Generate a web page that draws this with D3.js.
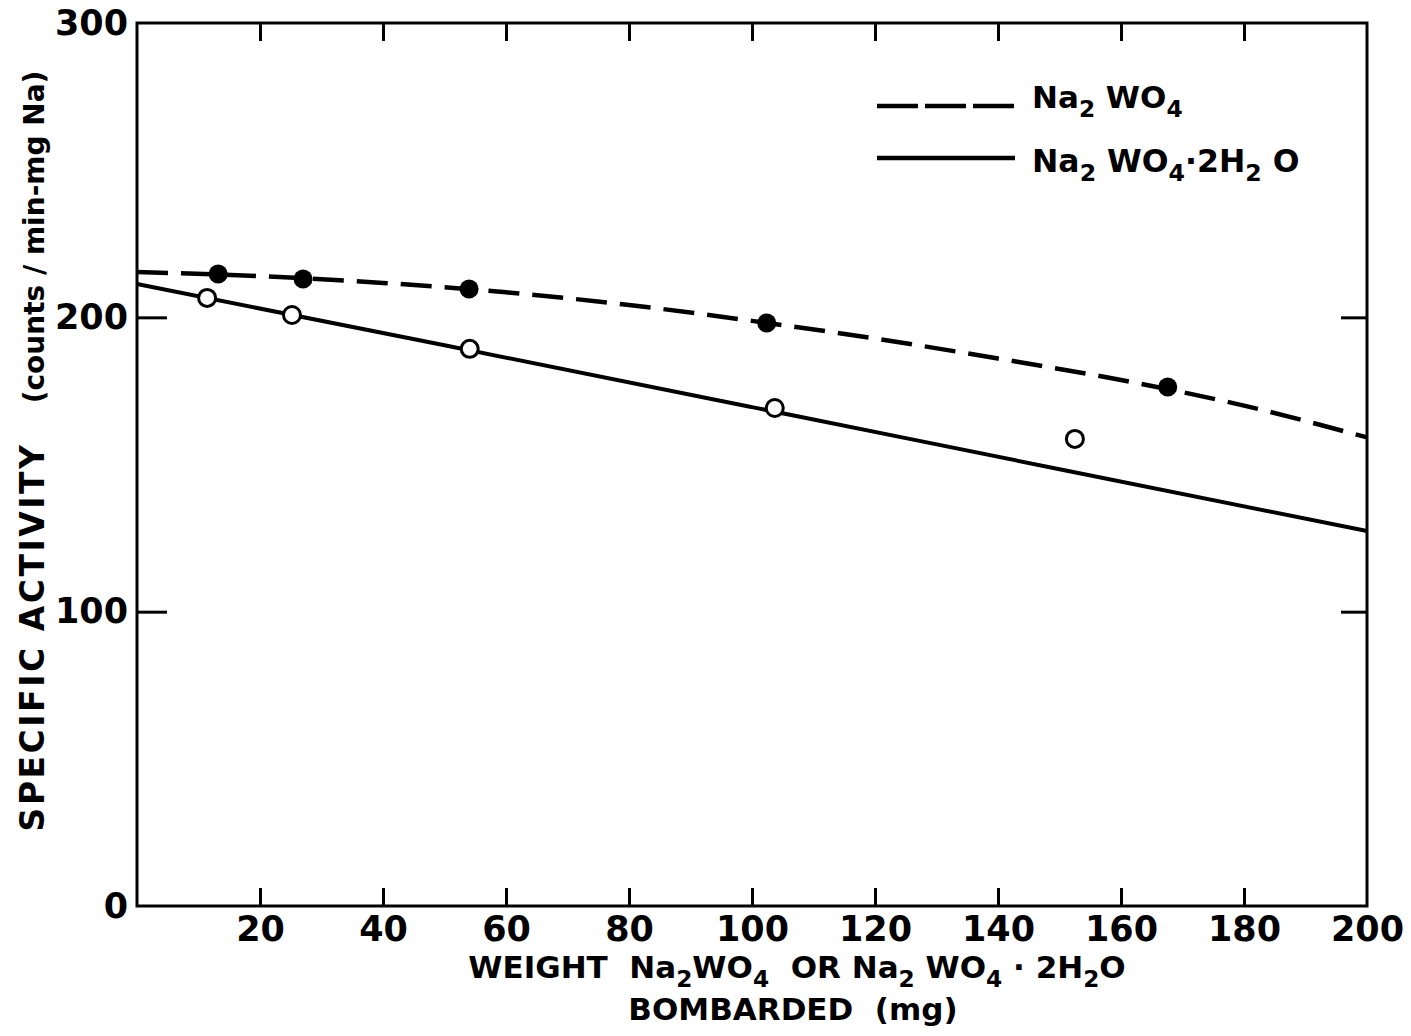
<!DOCTYPE html>
<html><head><meta charset="utf-8">
<script src="https://cdn.jsdelivr.net/npm/d3@7"></script>
<style>body{margin:0;background:#fff}</style>
</head><body>
<svg id="c" width="1411" height="1036"></svg>
<script>
const xTicks = [20,40,60,80,100,120,140,160,180,200];
const yTicks = [0,100,200,300];
// Na2WO4 (filled points, dashed curve)
const anhydX = [13.2, 27.0, 54.0, 102.4, 167.6];
const anhydY = [214.7, 213.0, 209.6, 198.1, 176.3];
const anhydCurveX = [0,20,40,60,80,100,120,140,160,180,200];
const anhydCurveY = [215.4,214.0,211.7,208.5,204.2,198.8,192.8,186.0,178.7,170.0,159.2];
// Na2WO4·2H2O (open points, solid line)
const hydX = [11.4, 25.2, 54.1, 103.7, 152.5];
const hydY = [206.6, 200.8, 189.3, 169.2, 158.7];
const hydCurveX = [0,50,100,150,200];
const hydCurveY = [211.3,190.5,169.5,148.4,127.4];

(function(){
const svg = d3.select("#c");
const FONT = "DejaVu Sans";
const L=137,R=1367,T=23,B=906;
const x = d3.scaleLinear().domain([0,200]).range([L,R]);
const y = d3.scaleLinear().domain([0,300]).range([B,T]);

const g = svg.append("g").attr("font-family",FONT).attr("font-weight","bold").attr("fill","#000");

g.append("rect").attr("x",L).attr("y",T).attr("width",R-L).attr("height",B-T)
 .attr("fill","none").attr("stroke","#000").attr("stroke-width",3);

const axB = d3.axisBottom(x).tickValues(xTicks).tickSize(-18).tickPadding(30).tickFormat(d3.format("d"));
const gb = g.append("g").attr("transform",`translate(0,${B})`).call(axB);
const axT = d3.axisTop(x).tickValues(xTicks.filter(d=>d<200)).tickSize(-18).tickFormat("");
const gt = g.append("g").attr("transform",`translate(0,${T})`).call(axT);
const axL = d3.axisLeft(y).tickValues(yTicks).tickSize(-30).tickPadding(40).tickFormat(d3.format("d"));
const gl = g.append("g").attr("transform",`translate(${L},0)`).call(axL);
const axR = d3.axisRight(y).tickValues([100,200]).tickSize(-26).tickFormat("");
const gr = g.append("g").attr("transform",`translate(${R},0)`).call(axR);
[gb,gt,gl,gr].forEach(a=>{
  a.select(".domain").remove();
  a.selectAll(".tick line").attr("stroke","#000").attr("stroke-width",3);
  a.selectAll("text").attr("font-family",FONT).attr("font-weight","bold").attr("font-size",35).attr("fill","#000");
});
gl.selectAll(".tick").filter(d=>d===0||d===300).select("line").remove();
gb.selectAll(".tick").filter(d=>d===200).select("line").remove();
gb.selectAll(".tick text").attr("dy","0.71em").attr("y",10);
gl.selectAll(".tick text").attr("x",-9);

const line = d3.line().x(d=>x(d[0])).y(d=>y(d[1])).curve(d3.curveMonotoneX);
g.append("path").datum(anhydCurveX.map((v,i)=>[v,anhydCurveY[i]]))
 .attr("d",line).attr("fill","none").attr("stroke","#000").attr("stroke-width",4.5).attr("stroke-dasharray","31,13");
g.append("path").datum(hydCurveX.map((v,i)=>[v,hydCurveY[i]]))
 .attr("d",line).attr("fill","none").attr("stroke","#000").attr("stroke-width",4);

g.selectAll("circle.f").data(anhydX.map((v,i)=>[v,anhydY[i]])).enter().append("circle").attr("class","f")
 .attr("cx",d=>x(d[0])).attr("cy",d=>y(d[1])).attr("r",9.5).attr("fill","#000");
g.selectAll("circle.o").data(hydX.map((v,i)=>[v,hydY[i]])).enter().append("circle").attr("class","o")
 .attr("cx",d=>x(d[0])).attr("cy",d=>y(d[1])).attr("r",8.5).attr("fill","#fff").attr("stroke","#000").attr("stroke-width",3);

function formula(sel, parts, size){
  sel.attr("font-size",size).attr("xml:space","preserve");
  let sub=false;
  parts.forEach(p=>{
    const t = sel.append("tspan");
    if (typeof p === "string"){
      t.attr("font-size",size).text(p);
      if (sub){ t.attr("dy",-size*0.3); sub=false; }
    } else {
      t.attr("font-size",size*0.75).attr("dy",size*0.3).text(p.s);
      sub=true;
    }
  });
}

g.append("line").attr("x1",877).attr("x2",1017).attr("y1",106).attr("y2",106)
 .attr("stroke","#000").attr("stroke-width",4.5).attr("stroke-dasharray","41,7");
g.append("line").attr("x1",877).attr("x2",1015).attr("y1",158).attr("y2",158)
 .attr("stroke","#000").attr("stroke-width",4.5);
formula(g.append("text").attr("x",1032).attr("y",108),["Na",{s:"2"}," WO",{s:"4"}],31);
formula(g.append("text").attr("x",1032).attr("y",172),["Na",{s:"2"}," WO",{s:"4"},"\u00B72H",{s:"2"}," O"],31.5);

formula(g.append("text").attr("x",797).attr("y",978).attr("text-anchor","middle"),
  ["WEIGHT  Na",{s:"2"},"WO",{s:"4"},"  OR Na",{s:"2"}," WO",{s:"4"}," \u00B7 2H",{s:"2"},"O"],31);
g.append("text").attr("x",793).attr("y",1020).attr("text-anchor","middle").attr("font-size",31)
 .attr("xml:space","preserve").text("BOMBARDED  (mg)");

g.append("text").attr("transform","translate(44,637) rotate(-90)").attr("text-anchor","middle")
 .attr("font-size",33).attr("letter-spacing",2.5).text("SPECIFIC ACTIVITY");
g.append("text").attr("transform","translate(44,237) rotate(-90)").attr("text-anchor","middle")
 .attr("font-size",28).text("(counts / min-mg Na)");
})();
</script>
</body></html>
